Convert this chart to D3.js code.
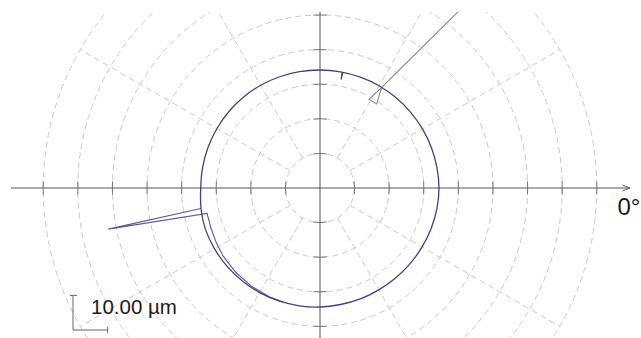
<!DOCTYPE html>
<html>
<head>
<meta charset="utf-8">
<script src="https://cdn.jsdelivr.net/npm/d3@7"></script>
<style>
  html, body { margin: 0; padding: 0; background: #fff; }
  svg { display: block; }
</style>
</head>
<body>
<svg id="chart" width="641" height="338"></svg>
<script>
// Polar roundness plot: rings every 10 µm, spokes every 30°.
const ringValues = [10, 20, 30, 40, 50, 60, 70, 80];
const spokeAngles = [30, 60, 120, 150, 210, 240, 300, 330];
const axisAngles = [0, 90, 180, 270];
const axisLabel = "0°";
const scaleLabel = "10.00 µm";
const scaleBarValue = 10;

// Measured profile (radius in µm on plot scale) every 10°.
const profileAngles = [0, 10, 20, 30, 40, 50, 60, 70, 80, 90, 100, 110,
  120, 130, 140, 150, 160, 170, 180, 190, 200, 210, 220, 230,
  240, 250, 260, 270, 280, 290, 300, 310, 320, 330, 340, 350];
const profileRadius = [34.39, 34.31, 34.25, 34.19, 34.13, 34.10, 34.13, 34.10, 34.10, 34.10, 34.16, 34.22,
  34.28, 34.34, 34.39, 34.39, 34.42, 34.45, 34.48, 34.91, 35.20, 35.20, 35.12, 35.03,
  34.91, 34.74, 34.57, 34.39, 34.19, 34.10, 33.99, 33.96, 33.99, 34.08, 34.19, 34.31];

// Small dip near the top of the profile.
const notchAngles = [78.8, 79.0, 79.2];
const notchRadius = [34.10, 31.90, 34.10];

// Outlier at the left: spike and returning trace.
const spikeLeftAngles = [189.8, 191.0, 192.7, 200, 208, 215, 225, 235, 245, 252];
const spikeLeftRadius = [34.91, 62.34, 33.47, 33.58, 33.90, 34.22, 34.45, 34.62, 34.71, 34.68];

// Outlier at the upper right: inward notch and outward spike.
const spikeRightAngles = [58.5, 61.1, 56.0, 58.5, 50.7];
const spikeRightRadius = [34.13, 29.28, 29.28, 34.13, 77.63];

const cx = 320, cy = 188;
const svg = d3.select("#chart");
const rad = d => d * Math.PI / 180;

const r = d3.scaleLinear().domain([0, 80]).range([0, 276.8]);

svg.append("defs").append("clipPath").attr("id", "plotClip")
  .append("rect").attr("x", 0).attr("y", 12).attr("width", 641).attr("height", 326);

const plot = svg.append("g").attr("clip-path", "url(#plotClip)");
const g = plot.append("g").attr("transform", `translate(${cx},${cy})`);

// dashed rings
g.selectAll("circle.ring").data(ringValues).join("circle")
  .attr("class", "ring")
  .attr("r", d => r(d))
  .attr("fill", "none")
  .attr("stroke", "#c9c9c9")
  .attr("stroke-width", 1)
  .attr("stroke-dasharray", "6,4");

// dashed spokes between first and last ring
g.selectAll("line.spoke").data(spokeAngles).join("line")
  .attr("class", "spoke")
  .attr("x1", a => r(ringValues[0]) * Math.cos(rad(a)))
  .attr("y1", a => -r(ringValues[0]) * Math.sin(rad(a)))
  .attr("x2", a => r(ringValues[ringValues.length - 1]) * Math.cos(rad(a)))
  .attr("y2", a => -r(ringValues[ringValues.length - 1]) * Math.sin(rad(a)))
  .attr("stroke", "#c9c9c9")
  .attr("stroke-width", 1)
  .attr("stroke-dasharray", "6,4");

// axes
g.append("line").attr("x1", 11 - cx).attr("y1", 0).attr("x2", 630 - cx).attr("y2", 0)
  .attr("stroke", "#555").attr("stroke-width", 1);
g.append("line").attr("x1", 0).attr("y1", 12 - cy).attr("x2", 0).attr("y2", 338 - cy)
  .attr("stroke", "#555").attr("stroke-width", 1);

// tick arcs where rings cross the axes
const tickData = [];
ringValues.forEach(v => axisAngles.forEach(a => tickData.push({ v, a })));
g.selectAll("path.tick").data(tickData).join("path")
  .attr("class", "tick")
  .attr("d", d => {
    const rr = r(d.v);
    const half = 6.5 / rr;
    const p = d3.path();
    const c = -rad(d.a);
    p.arc(0, 0, rr, c - half, c + half);
    return p.toString();
  })
  .attr("fill", "none")
  .attr("stroke", "#777")
  .attr("stroke-width", 1);

// profile
const closedLine = d3.lineRadial()
  .angle(d => rad(90 - d.a))
  .radius(d => r(d.v))
  .curve(d3.curveCatmullRomClosed);
const openLine = d3.lineRadial()
  .angle(d => rad(90 - d.a))
  .radius(d => r(d.v))
  .curve(d3.curveLinear);

const profile = profileAngles.map((a, i) => ({ a, v: profileRadius[i] }));
const notch = notchAngles.map((a, i) => ({ a, v: notchRadius[i] }));
const spikeLeft = spikeLeftAngles.map((a, i) => ({ a, v: spikeLeftRadius[i] }));
const spikeRight = spikeRightAngles.map((a, i) => ({ a, v: spikeRightRadius[i] }));

g.append("path").attr("d", openLine(spikeRight))
  .attr("fill", "none").attr("stroke", "#8c8c8c").attr("stroke-width", 1.1)
  .attr("stroke-linejoin", "miter");

g.append("path").attr("d", openLine(spikeLeft))
  .attr("fill", "none").attr("stroke", "#5c5c96").attr("stroke-width", 1.1)
  .attr("stroke-linejoin", "miter");

g.append("path").attr("d", closedLine(profile))
  .attr("fill", "none").attr("stroke", "#424282").attr("stroke-width", 1.3);

g.append("path").attr("d", openLine(notch))
  .attr("fill", "none").attr("stroke", "#424282").attr("stroke-width", 1.1);

// arrowhead on the 0° axis
const arrow = d3.path();
arrow.moveTo(622.5, 185);
arrow.lineTo(630, 188);
arrow.lineTo(622.5, 191);
svg.append("path").attr("d", arrow.toString())
  .attr("fill", "none").attr("stroke", "#555").attr("stroke-width", 1);

svg.append("text")
  .attr("x", 617.5).attr("y", 215)
  .attr("font-family", "'Liberation Sans', Arial, sans-serif")
  .attr("font-size", 24)
  .attr("fill", "#1a1a1a")
  .text(axisLabel);

// scale bar
const sbX = 73, sbY = 330, sbLen = r(scaleBarValue);
const sb = svg.append("g").attr("stroke", "#666").attr("stroke-width", 1).attr("fill", "none");
sb.append("line").attr("x1", sbX).attr("y1", sbY).attr("x2", sbX).attr("y2", sbY - sbLen);
sb.append("line").attr("x1", sbX).attr("y1", sbY).attr("x2", sbX + sbLen).attr("y2", sbY);
sb.append("line").attr("x1", sbX - 3).attr("y1", sbY - sbLen).attr("x2", sbX + 4).attr("y2", sbY - sbLen);
sb.append("line").attr("x1", sbX + sbLen).attr("y1", sbY - 3).attr("x2", sbX + sbLen).attr("y2", sbY + 3);

svg.append("text")
  .attr("x", 91).attr("y", 314)
  .attr("font-family", "'Liberation Sans', Arial, sans-serif")
  .attr("font-size", 20.5)
  .attr("fill", "#1a1a1a")
  .text(scaleLabel);
</script>
</body>
</html>
